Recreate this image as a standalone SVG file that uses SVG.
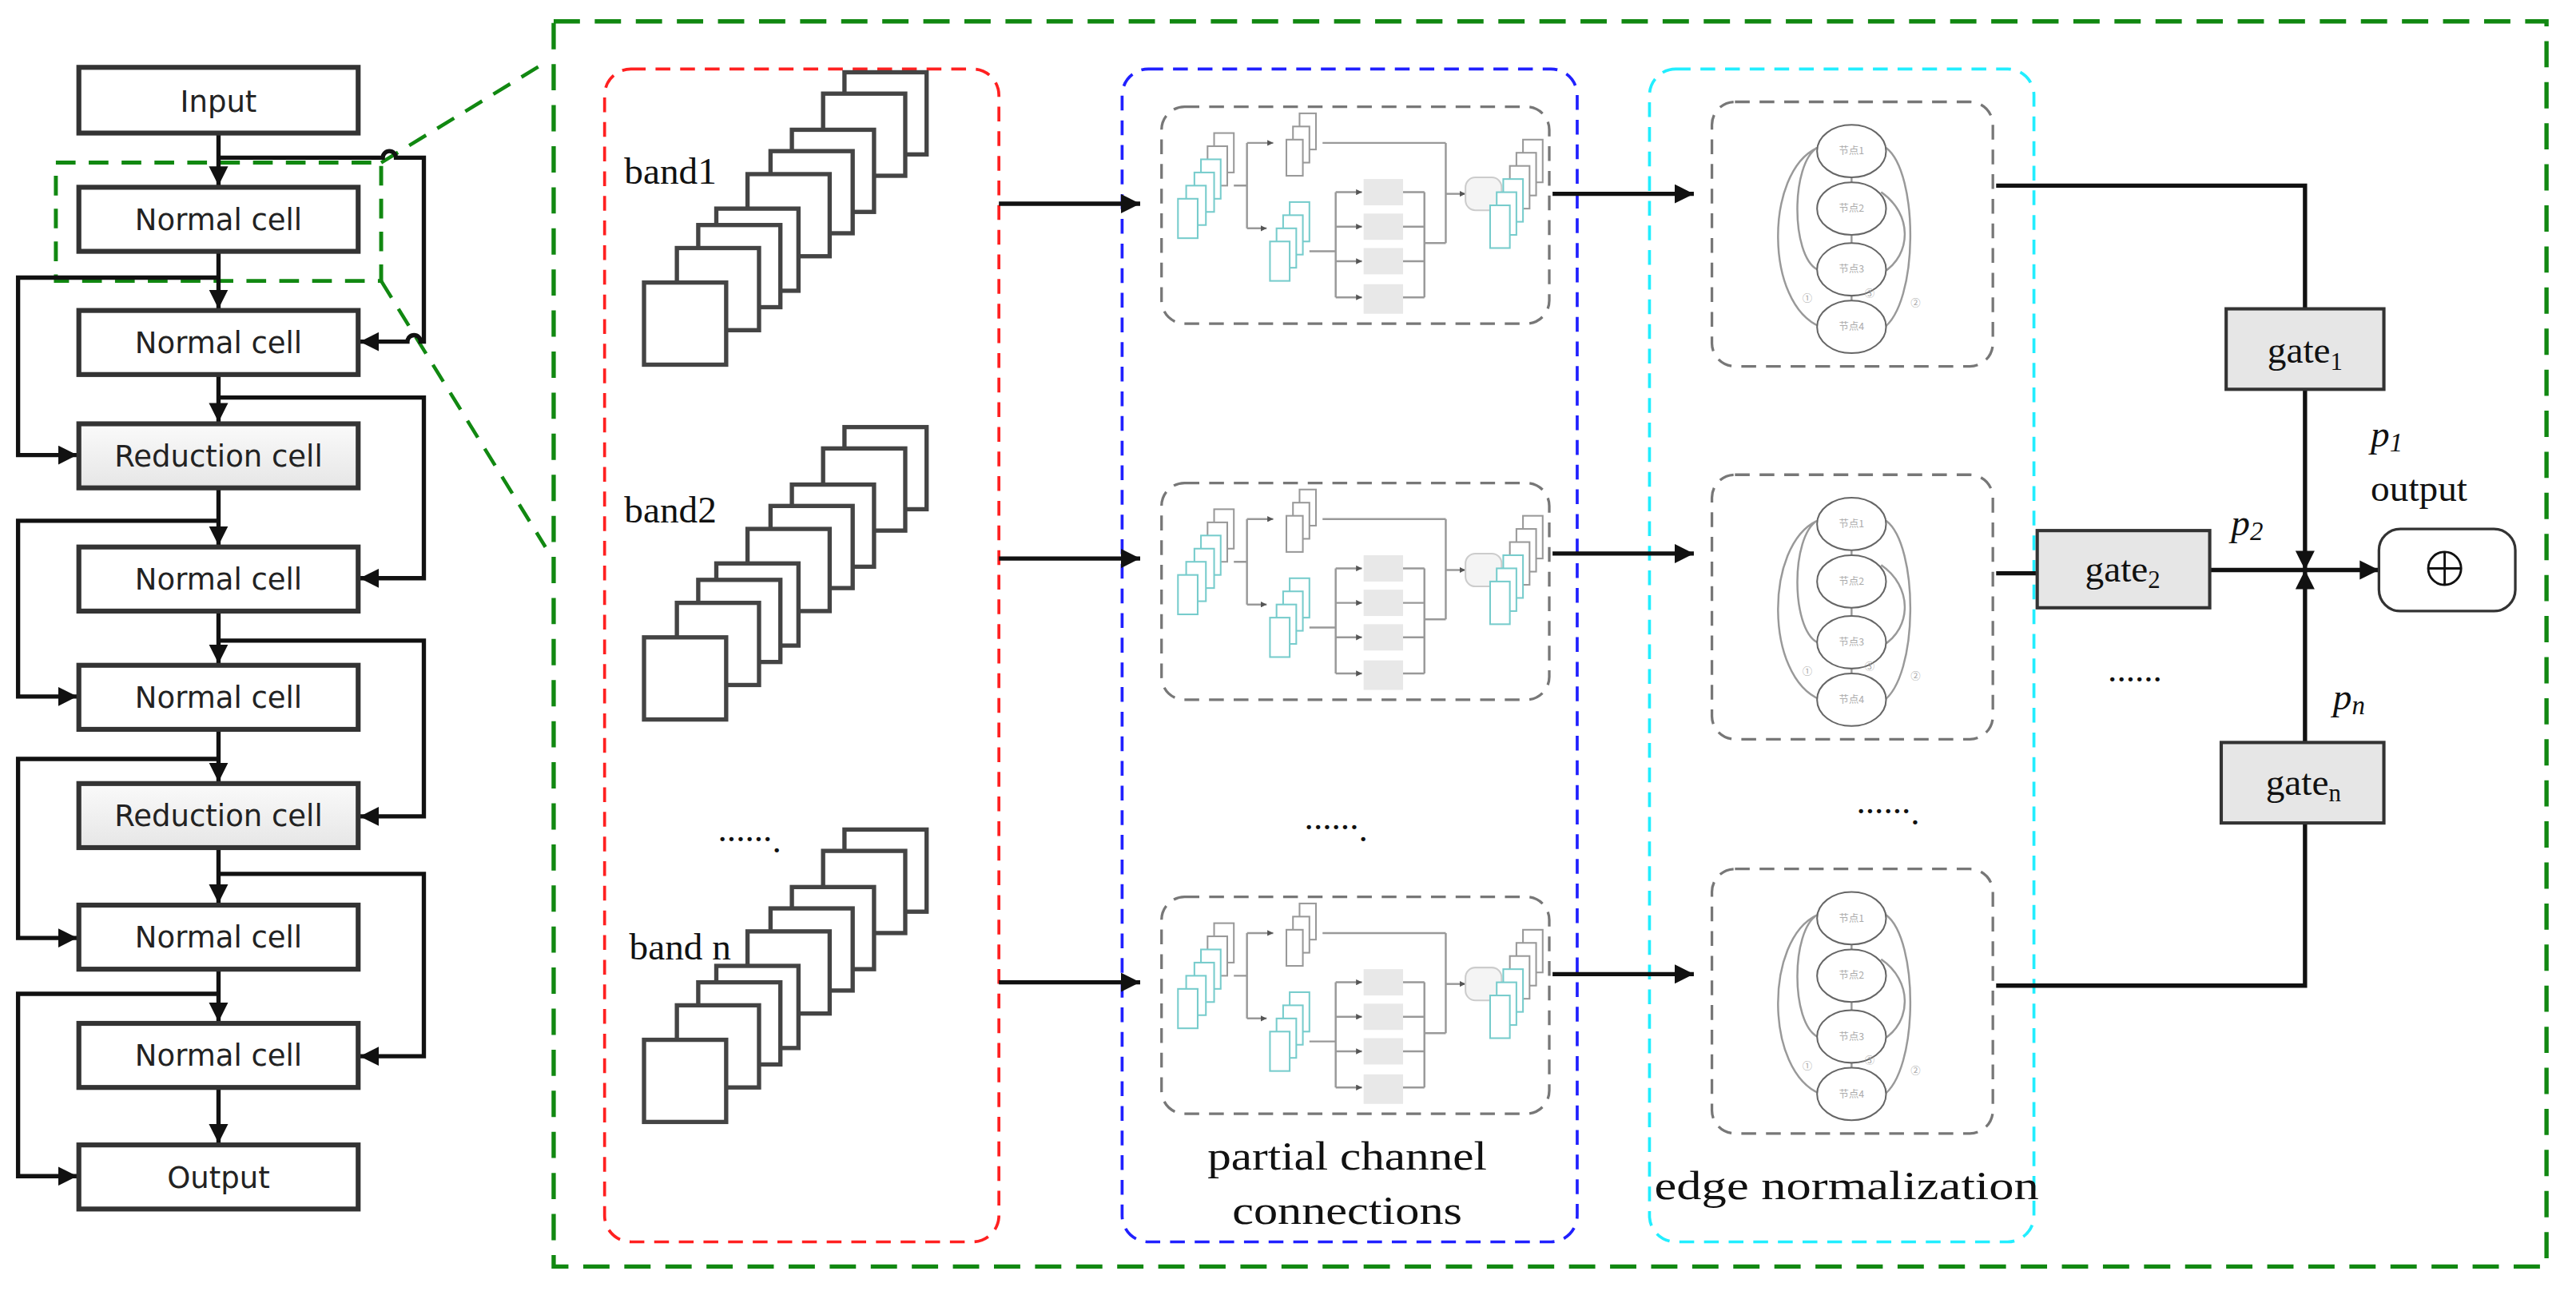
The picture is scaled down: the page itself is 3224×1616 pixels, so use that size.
<svg xmlns="http://www.w3.org/2000/svg" xmlns:xlink="http://www.w3.org/1999/xlink" width="3224" height="1616" viewBox="0 0 3224 1616">
<style>
.cell{fill:#fff;stroke:#333;stroke-width:3}
.red{fill:url(#gr);stroke:#333;stroke-width:3}
.ct{font-family:"DejaVu Sans",Verdana,sans-serif;font-size:18px;fill:#222;text-anchor:middle}
.tm{font-family:"Liberation Serif","Times New Roman",serif;fill:#111}
.con{fill:none;stroke:#111;stroke-width:2.6}
.sq{fill:#fff;stroke:#444;stroke-width:2.6}
.gate{fill:#e6e6e6;stroke:#333;stroke-width:2}
.mb{fill:none;stroke:#777;stroke-width:1.6;stroke-dasharray:9 6}
.ml{fill:none;stroke:#999;stroke-width:1.2}
.teal{fill:#fff;stroke:#7cc;stroke-width:1}
.gr{fill:#fff;stroke:#999;stroke-width:1}
.gb{fill:#e8e8e8}
.el{fill:#fff;stroke:#666;stroke-width:1}
.nl{font-family:"Noto Sans CJK SC",sans-serif;font-size:6px;fill:#aaa;text-anchor:middle}
</style>
<defs>
<linearGradient id="gr" x1="0" y1="0" x2="0" y2="1"><stop offset="0" stop-color="#fafafa"/><stop offset="1" stop-color="#e6e6e6"/></linearGradient>
<marker id="ar" viewBox="0 0 10 10" refX="10" refY="5" markerWidth="4.5" markerHeight="4.5" orient="auto" markerUnits="strokeWidth"><path d="M0,0L10,5L0,10z" fill="#111"/></marker>
<marker id="sa" viewBox="0 0 10 10" refX="10" refY="5" markerWidth="3" markerHeight="3" orient="auto" markerUnits="strokeWidth"><path d="M0,0L10,5L0,10z" fill="#555"/></marker>
<symbol id="pcc" overflow="visible">
<rect class="mb" x="2" y="2" width="236" height="132" rx="14"/>
<rect class="gr" x="34" y="18" width="12" height="24"/><rect class="gr" x="30" y="26" width="12" height="24"/>
<rect class="teal" x="26" y="34" width="12" height="24"/><rect class="teal" x="22" y="42" width="12" height="24"/><rect class="teal" x="17" y="50" width="12" height="24"/><rect class="teal" x="12" y="58" width="12" height="24"/>
<path class="ml" d="M46,50H54M54,24V76M54,76H66" marker-end="url(#sa)"/>
<path class="ml" d="M54,24H70" marker-end="url(#sa)"/>
<rect class="gr" x="86" y="6" width="10" height="22"/><rect class="gr" x="82" y="14" width="10" height="22"/><rect class="gr" x="78" y="22" width="10" height="22"/>
<rect class="teal" x="80" y="60" width="12" height="24"/><rect class="teal" x="76" y="68" width="12" height="24"/><rect class="teal" x="72" y="76" width="12" height="24"/><rect class="teal" x="68" y="84" width="12" height="24"/>
<path class="ml" d="M92,90H108M108,54V118"/>
<path class="ml" d="M108,54H124" marker-end="url(#sa)"/><path class="ml" d="M108,75H124" marker-end="url(#sa)"/><path class="ml" d="M108,96H124" marker-end="url(#sa)"/><path class="ml" d="M108,118H124" marker-end="url(#sa)"/>
<rect class="gb" x="125" y="46" width="24" height="16"/><rect class="gb" x="125" y="67" width="24" height="16"/><rect class="gb" x="125" y="88" width="24" height="16"/><rect class="gb" x="125" y="110" width="24" height="18"/>
<path class="ml" d="M149,54H162M149,75H162M149,96H162M149,118H162M162,54V118M162,85H175M100,24H175M175,24V85"/>
<path class="ml" d="M175,55H187" marker-end="url(#sa)"/>
<rect x="187" y="45" width="22" height="20" rx="6" fill="#f4f4f4" stroke="#ccc"/>
<rect class="gr" x="222" y="22" width="12" height="26"/><rect class="gr" x="218" y="30" width="12" height="26"/><rect class="gr" x="214" y="38" width="12" height="26"/>
<rect class="teal" x="210" y="46" width="12" height="26"/><rect class="teal" x="206" y="54" width="12" height="26"/><rect class="teal" x="202" y="62" width="12" height="26"/>
</symbol>
<symbol id="en" overflow="visible">
<rect class="mb" x="2" y="2" width="171" height="161" rx="14"/>
<path class="ml" stroke="#777" d="M66,30C50,40 50,95 66,104M66,30C34,45 34,125 68,139M108,30C128,45 128,125 106,140M105,57C124,70 124,95 106,106M87,48V51M87,83V88M87,120V123"/>
<ellipse class="el" cx="87" cy="32" rx="21" ry="16"/><ellipse class="el" cx="87" cy="67" rx="21" ry="16"/><ellipse class="el" cx="87" cy="104" rx="21" ry="16"/><ellipse class="el" cx="87" cy="139" rx="21" ry="16"/>
<text class="nl" x="87" y="34">节点1</text><text class="nl" x="87" y="69">节点2</text><text class="nl" x="87" y="106">节点3</text><text class="nl" x="87" y="141">节点4</text>
<text class="nl" x="60" y="124">①</text><text class="nl" x="98" y="121">③</text><text class="nl" x="126" y="127">②</text>
</symbol>
<symbol id="stack" overflow="visible">
<rect class="sq" x="122" y="-128" width="50" height="50"/><rect class="sq" x="109" y="-115" width="50" height="50"/><rect class="sq" x="90" y="-93" width="50" height="50"/><rect class="sq" x="77" y="-80" width="50" height="50"/><rect class="sq" x="63" y="-66" width="50" height="50"/><rect class="sq" x="44" y="-45" width="50" height="50"/><rect class="sq" x="33" y="-35" width="50" height="50"/><rect class="sq" x="20" y="-21" width="50" height="50"/><rect class="sq" x="0" y="0" width="50" height="50"/>
</symbol>
</defs>
<rect width="3224" height="1616" fill="#fff"/>
<g transform="scale(2.0562)">
<g id="frames">
<rect x="337" y="13" width="1213" height="758" fill="none" stroke="#118811" stroke-width="2.6" stroke-dasharray="16 9"/>
<rect x="34" y="99" width="198" height="72" fill="none" stroke="#118811" stroke-width="2.4" stroke-dasharray="12 8"/>
<path d="M232,99L332,38M232,171L332,333" fill="none" stroke="#118811" stroke-width="2.2" stroke-dasharray="12 8"/>
<rect x="368" y="42" width="240" height="714" rx="16" fill="none" stroke="#ff2020" stroke-width="1.8" stroke-dasharray="9 6"/>
<rect x="683" y="42" width="277" height="714" rx="16" fill="none" stroke="#2020ff" stroke-width="1.8" stroke-dasharray="9 6"/>
<rect x="1004" y="42" width="234" height="714" rx="16" fill="none" stroke="#22eeff" stroke-width="1.8" stroke-dasharray="9 6"/>
</g>
<g id="connectors">
<path class="con" d="M133,81V113" marker-end="url(#ar)"/>
<path class="con" d="M133,96H233a4,4 0 0 1 8,0H258V208H256a4,4 0 0 0 -8,0H219" marker-end="url(#ar)"/>
<path class="con" d="M133,153V188" marker-end="url(#ar)"/>
<path class="con" d="M133,169H11V277H47" marker-end="url(#ar)"/>
<path class="con" d="M133,228V257" marker-end="url(#ar)"/>
<path class="con" d="M133,242H258V352H219" marker-end="url(#ar)"/>
<path class="con" d="M133,297V332" marker-end="url(#ar)"/>
<path class="con" d="M133,317H11V424H47" marker-end="url(#ar)"/>
<path class="con" d="M133,372V404" marker-end="url(#ar)"/>
<path class="con" d="M133,390H258V497H219" marker-end="url(#ar)"/>
<path class="con" d="M133,444V476" marker-end="url(#ar)"/>
<path class="con" d="M133,462H11V571H47" marker-end="url(#ar)"/>
<path class="con" d="M133,516V550" marker-end="url(#ar)"/>
<path class="con" d="M133,532H258V643H219" marker-end="url(#ar)"/>
<path class="con" d="M133,590V622" marker-end="url(#ar)"/>
<path class="con" d="M133,605H11V716H47" marker-end="url(#ar)"/>
<path class="con" d="M133,662V696" marker-end="url(#ar)"/>
<path class="con" d="M608,124H694" marker-end="url(#ar)"/>
<path class="con" d="M608,340H694" marker-end="url(#ar)"/>
<path class="con" d="M608,598H694" marker-end="url(#ar)"/>
<path class="con" d="M945,118H1031" marker-end="url(#ar)"/>
<path class="con" d="M945,337H1031" marker-end="url(#ar)"/>
<path class="con" d="M945,593H1031" marker-end="url(#ar)"/>
<path class="con" stroke-width="1.8" d="M1215,113H1403V188M1215,349H1240M1215,600H1403V501"/>
<path class="con" stroke-width="1.8" d="M1403,237V347" marker-end="url(#ar)"/>
<path class="con" stroke-width="1.8" d="M1403,452V347" marker-end="url(#ar)"/>
<path class="con" stroke-width="1.8" d="M1345,347H1448" marker-end="url(#ar)"/>
</g>
<g id="left-cells">
<g id="n-input"><rect class="cell" x="48" y="41" width="170" height="40"/><text class="ct" x="133" y="68">Input</text></g>
<g id="n-normal1"><rect class="cell" x="48" y="114" width="170" height="39" stroke="#555"/><text class="ct" x="133" y="140" fill="#555">Normal cell</text></g>
<g id="n-normal2"><rect class="cell" x="48" y="189" width="170" height="39"/><text class="ct" x="133" y="215">Normal cell</text></g>
<g id="n-red1"><rect class="red" x="48" y="258" width="170" height="39"/><text class="ct" x="133" y="284">Reduction cell</text></g>
<g id="n-normal3"><rect class="cell" x="48" y="333" width="170" height="39"/><text class="ct" x="133" y="359">Normal cell</text></g>
<g id="n-normal4"><rect class="cell" x="48" y="405" width="170" height="39"/><text class="ct" x="133" y="431">Normal cell</text></g>
<g id="n-red2"><rect class="red" x="48" y="477" width="170" height="39"/><text class="ct" x="133" y="503">Reduction cell</text></g>
<g id="n-normal5"><rect class="cell" x="48" y="551" width="170" height="39"/><text class="ct" x="133" y="577">Normal cell</text></g>
<g id="n-normal6"><rect class="cell" x="48" y="623" width="170" height="39"/><text class="ct" x="133" y="649">Normal cell</text></g>
<g id="n-output"><rect class="cell" x="48" y="697" width="170" height="39"/><text class="ct" x="133" y="723">Output</text></g>
</g>
<g id="bands">
<g id="band1"><use xlink:href="#stack" x="392" y="172"/><text class="tm" x="380" y="112" font-size="23">band1</text></g>
<g id="band2"><use xlink:href="#stack" x="392" y="388"/><text class="tm" x="380" y="318" font-size="23">band2</text></g>
<g id="bandn"><use xlink:href="#stack" x="392" y="633"/><text class="tm" x="383" y="584" font-size="23">band n</text></g>
<text class="tm" x="437" y="512" font-size="22">......<tspan dy="7">.</tspan></text>
</g>
<g id="pcc-modules">
<use xlink:href="#pcc" x="705" y="63"/>
<use xlink:href="#pcc" x="705" y="292"/>
<use xlink:href="#pcc" x="705" y="544"/>
<text class="tm" x="794" y="505" font-size="22">......<tspan dy="7">.</tspan></text>
<text class="tm" x="820" y="712" font-size="25" text-anchor="middle" textLength="170" lengthAdjust="spacingAndGlyphs">partial channel</text>
<text class="tm" x="820" y="745" font-size="25" text-anchor="middle" textLength="140" lengthAdjust="spacingAndGlyphs">connections</text>
</g>
<g id="en-modules">
<use xlink:href="#en" x="1040" y="60"/>
<use xlink:href="#en" x="1040" y="287"/>
<use xlink:href="#en" x="1040" y="527"/>
<text class="tm" x="1130" y="495" font-size="22">......<tspan dy="7">.</tspan></text>
<text class="tm" x="1124" y="730" font-size="25" text-anchor="middle" textLength="234" lengthAdjust="spacingAndGlyphs">edge normalization</text>
</g>
<g id="gates">
<g id="gate1"><rect class="gate" x="1355" y="188" width="96" height="49"/><text class="tm" x="1403" y="221" font-size="23" text-anchor="middle">gate<tspan font-size="15" dy="4">1</tspan></text></g>
<g id="gate2"><rect class="gate" x="1240" y="323" width="105" height="47"/><text class="tm" x="1292" y="354" font-size="23" text-anchor="middle">gate<tspan font-size="15" dy="4">2</tspan></text></g>
<g id="gaten"><rect class="gate" x="1352" y="452" width="99" height="49"/><text class="tm" x="1402" y="484" font-size="23" text-anchor="middle">gate<tspan font-size="15" dy="4">n</tspan></text></g>
<text class="tm" x="1443" y="272" font-size="23" font-style="italic">p<tspan font-size="16" dy="3">1</tspan></text>
<text class="tm" x="1358" y="326" font-size="23" font-style="italic">p<tspan font-size="16" dy="3">2</tspan></text>
<text class="tm" x="1420" y="432" font-size="23" font-style="italic">p<tspan font-size="16" dy="3">n</tspan></text>
<text class="tm" x="1283" y="415" font-size="22">......</text>
</g>
<g id="sum">
<text class="tm" x="1443" y="305" font-size="23">output</text>
<rect x="1448" y="322" width="83" height="50" rx="13" fill="#fff" stroke="#333" stroke-width="1.6"/>
<circle cx="1488" cy="346" r="10" fill="none" stroke="#111" stroke-width="1.4"/>
<path d="M1478,346H1498M1488,336V356" stroke="#111" stroke-width="1.4"/>
</g>
</g>
</svg>
